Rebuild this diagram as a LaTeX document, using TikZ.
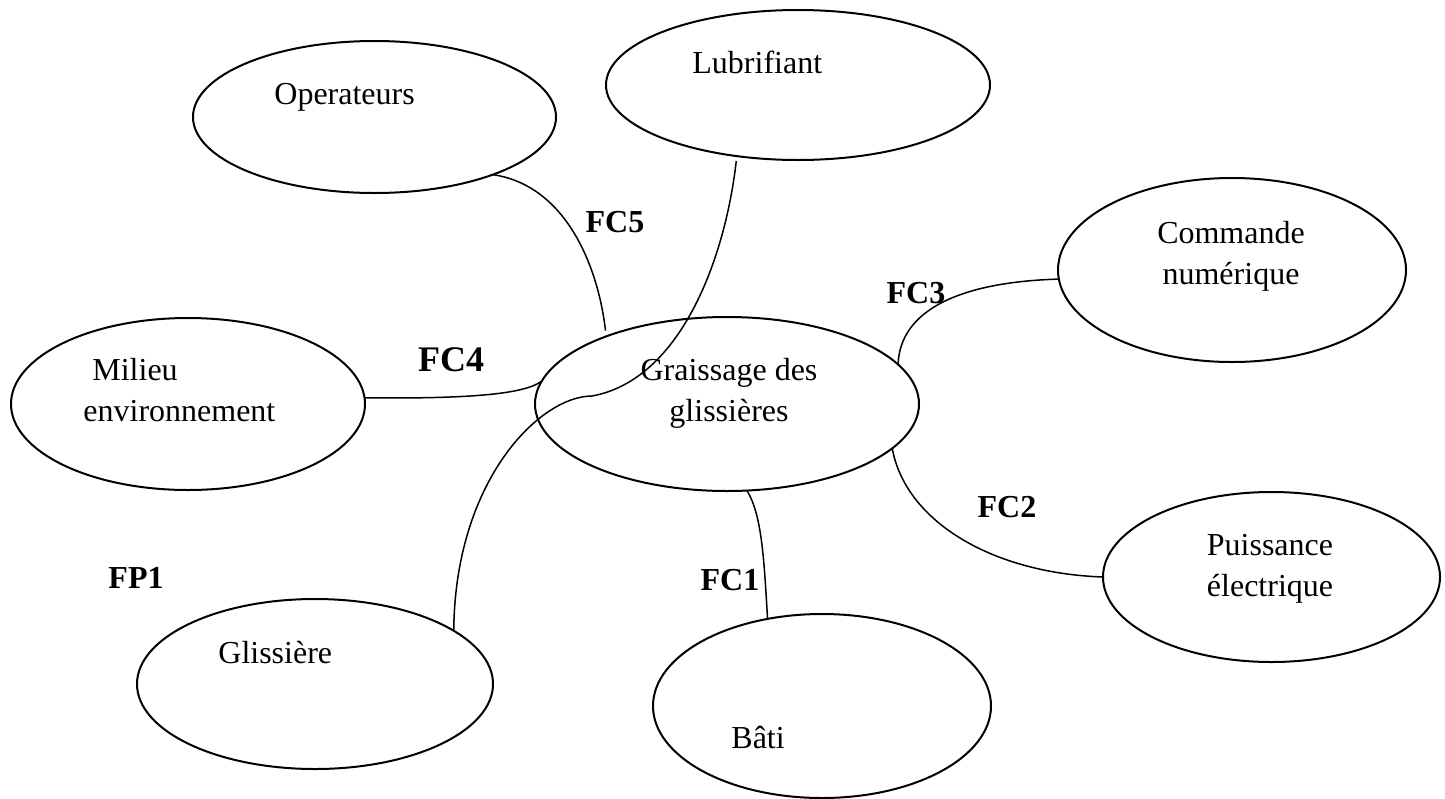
\documentclass[tikz,border=0pt]{standalone}
\usepackage{fontspec}
\setmainfont{Liberation Serif}
\usetikzlibrary{shapes.geometric}
\begin{document}
\begin{tikzpicture}[x=0.5pt,y=-0.5pt,
  blob/.style={ellipse,draw,line width=1pt,inner sep=0pt,outer sep=0pt},
  link/.style={line width=0.75pt},
  caption/.style={inner sep=0pt,anchor=base west,font=\fontsize{16}{20.5}\selectfont},
  twoline/.style={inner sep=0pt,align=center,font=\fontsize{16}{20.5}\selectfont},
  fclabel/.style={inner sep=0pt,font=\fontsize{16}{20}\selectfont\bfseries}]
\useasboundingbox (0,0) rectangle (1445,798);

% surrounding elements
\node[blob,minimum width=181.5pt,minimum height=76pt] (op) at (374.5,117) {};
\node[blob,minimum width=192pt,minimum height=75pt] (lub) at (798,85) {};
\node[blob,minimum width=177pt,minimum height=86pt] (mil) at (188,404) {};
\node[blob,minimum width=192pt,minimum height=87pt] (gr) at (727,404) {};
\node[blob,minimum width=174pt,minimum height=92pt] (com) at (1232,270) {};
\node[blob,minimum width=168.5pt,minimum height=85pt] (pu) at (1271.5,577) {};
\node[blob,minimum width=178pt,minimum height=85pt] (gl) at (315,684) {};
\node[blob,minimum width=169pt,minimum height=92pt] (bati) at (822,706) {};

% names inside the ellipses
\node[caption] (opT) at (274,104) {Operateurs};
\node[caption] (lubT) at (692,73) {Lubrifiant};
\node[caption,align=left,anchor=north west] (milT) at (83,358) {\hspace{4.5pt}Milieu\\environnement};
\node[twoline] (grT) at (729,393) {Graissage des\\glissières};
\node[twoline] (comT) at (1231,256) {Commande\\numérique};
\node[twoline] (puT) at (1270,569) {Puissance\\électrique};
\node[caption] (glT) at (218,663) {Glissière};
\node[caption] (batiT) at (731,748) {Bâti};

% connectors
\coordinate (bend) at (592,396);
\draw[link] (op.-26) .. controls (565,185) and (598,265) .. ([yshift=3pt]gr.151);
\draw[link] (mil.2) .. controls (480,399) and (525,393) .. (gr.173);
\draw[link] ([yshift=-2.5pt]lub.-131) .. controls (725,260) and (680,380) .. (bend)
                       .. controls (540,396) and (455,480) .. (gl.21);
\draw[link] (gr.-77) .. controls (762,515) and (764,560) .. (bati.122);
\draw[link] (gr.13) .. controls (900,310) and (960,282) .. (com.183);
\draw[link] (gr.-15) .. controls (905,520) and (990,573) .. (pu.180);

% function labels
\node[fclabel] (fc5) at (615,222) {FC5};
\node[fclabel,font=\fontsize{18}{22}\selectfont\bfseries] (fc4) at (451,360) {FC4};
\node[fclabel] (fc3) at (916,293) {FC3};
\node[fclabel] (fc2) at (1007,507) {FC2};
\node[fclabel] (fc1) at (730,580) {FC1};
\node[fclabel] (fp1) at (136,578) {FP1};
\end{tikzpicture}
\end{document}
